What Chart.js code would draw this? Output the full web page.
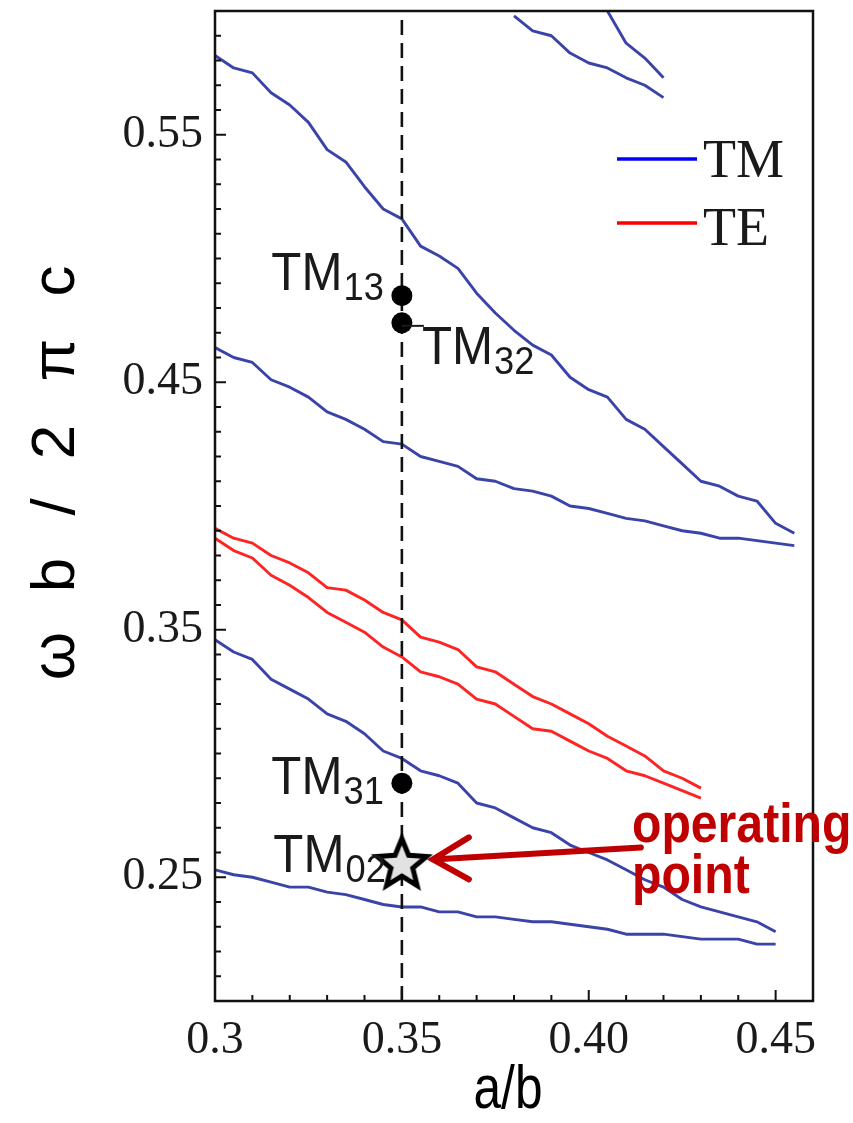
<!DOCTYPE html>
<html>
<head>
<meta charset="utf-8">
<script src="https://cdn.jsdelivr.net/npm/chart.js@4.4.1/dist/chart.umd.min.js"></script>
<style>
  html, body { margin: 0; padding: 0; background: #fff; }
  canvas { display: block; }
</style>
</head>
<body>
<canvas id="modes" width="853" height="1123"></canvas>
<script>
// a/b sample positions shared by every curve
const aOverB = [0.300, 0.305, 0.310, 0.315, 0.320, 0.325, 0.330, 0.335, 0.340, 0.345,
                0.350, 0.355, 0.360, 0.365, 0.370, 0.375, 0.380, 0.385, 0.390, 0.395,
                0.400, 0.405, 0.410, 0.415, 0.420, 0.425, 0.430, 0.435, 0.440, 0.445,
                0.450, 0.455];

// TM branches (normalized frequency wb/2pic), null where the branch is not drawn
const tmSteep = [null, null, null, null, null, null, null, null, null, null,
                 null, null, null, null, null, null, null, null, null, null,
                 0.613, 0.600, 0.587, 0.581, 0.573, null, null, null, null, null,
                 null, null];
const tmUpper = [null, null, null, null, null, null, null, null, null, null,
                 null, null, null, null, null, null, 0.598, 0.592, 0.590, 0.583,
                 0.579, 0.577, 0.573, 0.570, 0.565, null, null, null, null, null,
                 null, null];
const tm13Branch = [0.582, 0.577, 0.575, 0.567, 0.562, 0.555, 0.544, 0.539, 0.529, 0.520,
                    0.516, 0.505, 0.501, 0.496, 0.486, 0.478, 0.471, 0.465, 0.461, 0.452,
                    0.447, 0.444, 0.435, 0.431, 0.424, 0.417, 0.410, 0.408, 0.404, 0.402,
                    0.393, 0.389];
const tm32Branch = [0.464, 0.460, 0.458, 0.451, 0.448, 0.444, 0.438, 0.435, 0.431, 0.426,
                    0.425, 0.420, 0.418, 0.416, 0.411, 0.410, 0.407, 0.406, 0.404, 0.400,
                    0.399, 0.397, 0.395, 0.394, 0.392, 0.390, 0.389, 0.387, 0.387, 0.386,
                    0.385, 0.384];
const tm31Branch = [0.346, 0.341, 0.338, 0.330, 0.326, 0.322, 0.316, 0.313, 0.308, 0.301,
                    0.298, 0.293, 0.291, 0.288, 0.280, 0.278, 0.274, 0.270, 0.268, 0.263,
                    0.260, 0.257, 0.253, 0.249, 0.246, 0.241, 0.238, 0.236, 0.234, 0.232,
                    0.228, null];
const tm02Branch = [0.253, 0.251, 0.250, 0.248, 0.246, 0.246, 0.244, 0.243, 0.241, 0.239,
                    0.238, 0.238, 0.236, 0.236, 0.234, 0.234, 0.233, 0.232, 0.232, 0.231,
                    0.230, 0.229, 0.227, 0.227, 0.227, 0.226, 0.225, 0.225, 0.225, 0.223,
                    0.223, null];

// TE branches
const teUpper = [0.391, 0.387, 0.385, 0.380, 0.377, 0.373, 0.367, 0.366, 0.362, 0.357,
                 0.354, 0.347, 0.345, 0.342, 0.335, 0.333, 0.328, 0.323, 0.320, 0.316,
                 0.312, 0.307, 0.303, 0.299, 0.293, 0.290, 0.286, null, null, null,
                 null, null];
const teLower = [0.387, 0.382, 0.379, 0.372, 0.368, 0.363, 0.357, 0.353, 0.349, 0.343,
                 0.339, 0.333, 0.331, 0.328, 0.322, 0.320, 0.315, 0.310, 0.309, 0.305,
                 0.301, 0.298, 0.293, 0.291, 0.288, 0.285, 0.282, null, null, null,
                 null, null];

// marked modes on the a/b = 0.35 line
const guideX = 0.35;
const modeNames = ['TM13', 'TM32', 'TM31'];
const modeY = [0.485, 0.474, 0.288];
const operatingName = 'TM02';
const operatingY = 0.256;

// axis ticks
const xTicks = [0.30, 0.35, 0.40, 0.45];
const xTickLabels = ['0.3', '0.35', '0.40', '0.45'];
const yTicks = [0.25, 0.35, 0.45, 0.55];
const yTickLabels = ['0.25', '0.35', '0.45', '0.55'];

const TM_BLUE = '#3a44a8';
const TE_RED = '#ff2424';
const ARROW_RED = '#c00000';
const INK = '#1a1a1a';

function curve(values) {
  return aOverB.map((x, i) => ({ x: x, y: values[i] }));
}

function makeStar(R, r, lw) {
  const c = document.createElement('canvas');
  const size = Math.ceil(2 * R + lw + 6);
  c.width = c.height = size;
  const g = c.getContext('2d');
  const cx = size / 2, cy = size / 2 + R * 0.08;
  g.beginPath();
  for (let i = 0; i < 10; i++) {
    const rad = i % 2 ? r : R;
    const a = -Math.PI / 2 + i * Math.PI / 5;
    g.lineTo(cx + rad * Math.cos(a), cy + rad * Math.sin(a));
  }
  g.closePath();
  g.fillStyle = '#e2e2e2';
  g.fill();
  g.lineWidth = lw;
  g.lineJoin = 'miter';
  g.strokeStyle = '#000';
  g.stroke();
  return c;
}

function squeezed(ctx, text, x, y, font, sx, align) {
  ctx.save();
  ctx.font = font;
  ctx.translate(x, y);
  ctx.scale(sx, 1);
  ctx.textAlign = align || 'left';
  ctx.textBaseline = 'alphabetic';
  ctx.fillText(text, 0, 0);
  ctx.restore();
}

// "TM" + subscript; anchor is either the right end (align 'right') or left start
function modeLabel(ctx, name, x, base, align) {
  const main = name.slice(0, 2), sub = name.slice(2);
  const mainFont = '53px "Liberation Sans"', subFont = '39px "Liberation Sans"';
  const sx = 0.93;
  ctx.font = mainFont;
  const w1 = ctx.measureText(main).width * sx;
  ctx.font = subFont;
  const w2 = ctx.measureText(sub).width * sx;
  const left = align === 'right' ? x - w1 - w2 : x;
  ctx.fillStyle = INK;
  squeezed(ctx, main, left, base, mainFont, sx);
  squeezed(ctx, sub, left + w1 + 1, base + 10, subFont, sx);
}

function noPad(s) {
  s.paddingTop = 0;
  s.paddingBottom = 0;
  s.paddingLeft = 0;
  s.paddingRight = 0;
}

const decorations = {
  id: 'decorations',
  afterDatasetsDraw(chart) {
    const ctx = chart.ctx;
    const xs = chart.scales.x, ys = chart.scales.y;
    const a = chart.chartArea;
    ctx.save();

    // frame
    ctx.strokeStyle = '#111';
    ctx.lineWidth = 2.5;
    ctx.strokeRect(a.left, a.top, a.right - a.left, a.bottom - a.top);

    // inward ticks
    ctx.lineWidth = 2;
    for (let i = 31; i <= 45; i++) {
      const v = i / 100;
      const major = i % 5 === 0;
      const px = xs.getPixelForValue(v);
      ctx.beginPath();
      ctx.moveTo(px, a.bottom);
      ctx.lineTo(px, a.bottom - (major ? 11 : 6));
      ctx.stroke();
    }
    for (let i = 21; i <= 59; i++) {
      const v = i / 100;
      const major = yTicks.some(t => Math.abs(t - v) < 1e-9);
      const py = ys.getPixelForValue(v);
      ctx.beginPath();
      ctx.moveTo(a.left, py);
      ctx.lineTo(a.left + (major ? 11 : 6), py);
      ctx.stroke();
    }

    // mode labels
    const gx = xs.getPixelForValue(guideX);
    const p13 = ys.getPixelForValue(modeY[0]);
    const p32 = ys.getPixelForValue(modeY[1]);
    const p31 = ys.getPixelForValue(modeY[2]);
    const pOp = ys.getPixelForValue(operatingY);
    modeLabel(ctx, modeNames[0], gx - 19, p13 - 6, 'right');
    ctx.strokeStyle = INK;
    ctx.lineWidth = 2;
    ctx.beginPath();
    ctx.moveTo(gx, p32 + 3);
    ctx.lineTo(gx + 22, p32 + 3);
    ctx.stroke();
    modeLabel(ctx, modeNames[1], gx + 20, p32 + 41, 'left');
    modeLabel(ctx, modeNames[2], gx - 19, p31 + 11, 'right');
    modeLabel(ctx, operatingName, gx - 17, pOp + 10, 'right');

    // arrow to the operating point
    const tipX = gx + 31, tipY = pOp - 3;
    const tailX = tipX + 208, tailY = tipY - 12;
    ctx.strokeStyle = ARROW_RED;
    ctx.lineWidth = 6;
    ctx.lineCap = 'round';
    ctx.beginPath();
    ctx.moveTo(tailX, tailY);
    ctx.lineTo(tipX, tipY);
    ctx.moveTo(tipX + 36, tipY - 22);
    ctx.lineTo(tipX, tipY);
    ctx.lineTo(tipX + 36, tipY + 20);
    ctx.stroke();
    ctx.fillStyle = ARROW_RED;
    squeezed(ctx, 'operating', 632, 842, 'bold 56px "Liberation Sans"', 0.86);
    squeezed(ctx, 'point', 632, 893, 'bold 56px "Liberation Sans"', 0.86);

    // legend
    const lx = a.right - 196;
    ctx.lineCap = 'butt';
    ctx.lineWidth = 3.5;
    ctx.strokeStyle = '#0000ff';
    ctx.beginPath(); ctx.moveTo(lx, 159); ctx.lineTo(lx + 80, 159); ctx.stroke();
    ctx.strokeStyle = '#ff0000';
    ctx.beginPath(); ctx.moveTo(lx, 223); ctx.lineTo(lx + 80, 223); ctx.stroke();
    ctx.fillStyle = INK;
    squeezed(ctx, 'TM', lx + 86, 177, '54px "Liberation Serif"', 1);
    squeezed(ctx, 'TE', lx + 86, 245, '54px "Liberation Serif"', 1);

    // axis titles
    const yTitle = [['ω', 656], ['b', 575], ['/', 507], ['2', 442], ['π', 360], ['c', 281]];
    ctx.fillStyle = '#000';
    ctx.font = '62px "Liberation Sans"';
    ctx.textAlign = 'center';
    yTitle.forEach(([t, y]) => {
      ctx.save();
      ctx.translate(74, y);
      ctx.rotate(-Math.PI / 2);
      ctx.fillText(t, 0, 0);
      ctx.restore();
    });
    squeezed(ctx, 'a/b', (a.left + a.right) / 2 - 6, 1108, '62px "Liberation Sans"', 0.8, 'center');

    ctx.restore();
  }
};

const starStyle = makeStar(26, 11.5, 5);
const lineStyle = (color) => ({
  borderColor: color, borderWidth: 2.9, pointRadius: 0, fill: false,
  tension: 0, spanGaps: false, borderJoinStyle: 'round', order: 3
});

new Chart(document.getElementById('modes'), {
  type: 'line',
  data: {
    datasets: [
      { label: 'operating', type: 'scatter', data: [{ x: guideX, y: operatingY }],
        pointStyle: starStyle, order: 0 },
      { label: 'modes', type: 'scatter', data: modeY.map(y => ({ x: guideX, y: y })),
        pointRadius: 10.5, pointBackgroundColor: '#000', pointBorderWidth: 0, order: 1 },
      { label: 'guide', data: [{ x: guideX, y: 0.2 }, { x: guideX, y: 0.6 }],
        borderColor: '#111', borderWidth: 2.6, borderDash: [15, 8], pointRadius: 0, order: 2 },
      { label: 'TM', data: curve(tmSteep), ...lineStyle(TM_BLUE) },
      { label: 'TM', data: curve(tmUpper), ...lineStyle(TM_BLUE) },
      { label: 'TM', data: curve(tm13Branch), ...lineStyle(TM_BLUE) },
      { label: 'TM', data: curve(tm32Branch), ...lineStyle(TM_BLUE) },
      { label: 'TE', data: curve(teUpper), ...lineStyle(TE_RED) },
      { label: 'TE', data: curve(teLower), ...lineStyle(TE_RED) },
      { label: 'TM', data: curve(tm31Branch), ...lineStyle(TM_BLUE) },
      { label: 'TM', data: curve(tm02Branch), ...lineStyle(TM_BLUE) }
    ]
  },
  options: {
    responsive: false,
    animation: false,
    events: [],
    layout: { padding: { top: 11, right: 40, left: 0, bottom: 0 } },
    plugins: { legend: { display: false }, tooltip: { enabled: false } },
    scales: {
      x: {
        type: 'linear',
        min: 0.3,
        max: 0.46,
        afterBuildTicks: s => { s.ticks = xTicks.map(v => ({ value: v })); },
        afterFit: s => { s.height = 122; noPad(s); },
        grid: { display: false, drawTicks: false },
        border: { display: false },
        ticks: {
          autoSkip: false, maxRotation: 0, padding: 12, color: INK,
          font: { family: 'Liberation Serif', size: 46 },
          callback: (v, i) => xTickLabels[i]
        }
      },
      y: {
        type: 'linear',
        min: 0.2,
        max: 0.6,
        afterBuildTicks: s => { s.ticks = yTicks.map(v => ({ value: v })); },
        afterFit: s => { s.width = 215; noPad(s); },
        grid: { display: false, drawTicks: false },
        border: { display: false },
        ticks: {
          autoSkip: false, padding: 12, color: INK,
          font: { family: 'Liberation Serif', size: 46 },
          callback: (v, i) => yTickLabels[i]
        }
      }
    }
  },
  plugins: [decorations]
});
</script>
</body>
</html>
